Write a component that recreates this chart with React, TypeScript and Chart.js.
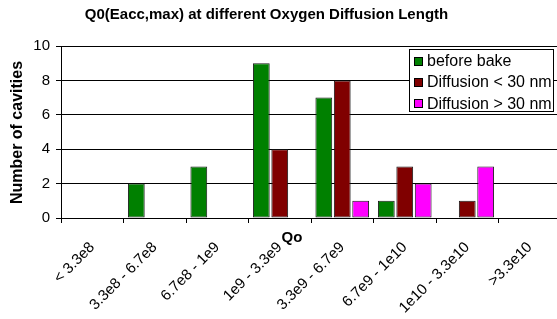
import React, { useEffect, useRef } from "react";
import { Chart, registerables } from "chart.js";

Chart.register(...registerables);

const categories = [
  "< 3.3e8",
  "3.3e8 - 6.7e8",
  "6.7e8 - 1e9",
  "1e9 - 3.3e9",
  "3.3e9 - 6.7e9",
  "6.7e9 - 1e10",
  "1e10 - 3.3e10",
  ">3.3e10",
];
const beforeBake = [0, 2, 3, 9, 7, 1, 0, 0];
const diffusionBelow30 = [0, 0, 0, 4, 8, 3, 1, 0];
const diffusionAbove30 = [0, 0, 0, 0, 1, 2, 3, 0];
const seriesNames = ["before bake", "Diffusion < 30 nm", "Diffusion > 30 nm"];
const seriesColors = ["#008000", "#800000", "#FF00FF"];
const yMin = 0;
const yMax = 10;
const yStep = 2;
const chartTitle = "Q0(Eacc,max) at different Oxygen Diffusion Length";
const xTitle = "Qo";
const yTitle = "Number of cavities";

const FONT = "'Liberation Sans', Arial, sans-serif";

const textPlugin = {
  id: "customTexts",
  afterDraw(chart: any) {
    const ctx = chart.ctx;
    const xs = chart.scales.x;
    ctx.save();
    ctx.fillStyle = "#000";
    // rotated category labels, anchored at each category centre
    ctx.font = `15px ${FONT}`;
    ctx.textAlign = "right";
    ctx.textBaseline = "middle";
    categories.forEach((label, i) => {
      const px = xs.getPixelForTick(i);
      ctx.save();
      ctx.translate(px, 245);
      ctx.rotate(-Math.PI / 4);
      ctx.fillText(label, 0, 0);
      ctx.restore();
    });
    ctx.textAlign = "center";
    ctx.textBaseline = "middle";
    ctx.font = `bold 15px ${FONT}`;
    ctx.fillText(chartTitle, 266.5, 15);
    ctx.fillText(xTitle, 292, 237.5);
    ctx.translate(17.5, 132.5);
    ctx.rotate(-Math.PI / 2);
    ctx.font = `bold 16px ${FONT}`;
    ctx.fillText(yTitle, 0, 0);
    ctx.restore();
  },
};

export default function App() {
  const canvasRef = useRef<HTMLCanvasElement | null>(null);

  useEffect(() => {
    if (!canvasRef.current) return;
    const seriesData = [beforeBake, diffusionBelow30, diffusionAbove30];
    const chart = new Chart(canvasRef.current, {
      type: "bar",
      data: {
        labels: categories,
        datasets: seriesData.map((d, i) => ({
          label: seriesNames[i],
          data: d,
          backgroundColor: seriesColors[i],
          borderColor: "#1a1a1a",
          borderWidth: (c: any) => (c.raw === 0 ? 0 : 1),
          borderSkipped: false,
          categoryPercentage: 0.885,
          barPercentage: 0.91,
        })),
      },
      options: {
        responsive: false,
        animation: false,
        devicePixelRatio: 1,
        layout: { padding: { top: 46, left: 0, right: 0, bottom: 0 } },
        plugins: {
          legend: { display: false },
          title: { display: false },
          tooltip: { enabled: false },
        },
        scales: {
          x: {
            afterFit: (s: any) => {
              s.height = 101;
            },
            grid: {
              display: true,
              drawOnChartArea: false,
              drawTicks: true,
              tickLength: 5,
              color: "#000",
              offset: true,
            },
            border: { display: true, color: "#000", width: 1 },
            ticks: {
              display: false,
              autoSkip: false,
            },
          },
          y: {
            min: yMin,
            max: yMax,
            afterFit: (s: any) => {
              s.width = 61;
            },
            grid: {
              display: true,
              drawTicks: true,
              tickLength: 5,
              color: "#000",
            },
            border: { display: true, color: "#000", width: 1 },
            ticks: {
              stepSize: yStep,
              padding: 6,
              color: "#000",
              font: { family: FONT, size: 15 },
            },
          },
        },
      },
      plugins: [textPlugin],
    });
    return () => chart.destroy();
  }, []);

  const rowTops = [1, 22, 43.5];

  return (
    <div
      style={{
        position: "fixed",
        left: 0,
        top: 0,
        width: 557,
        height: 319,
        overflow: "hidden",
        background: "#fff",
      }}
    >
      <canvas
        ref={canvasRef}
        width={561}
        height={319}
        style={{ position: "absolute", left: 0, top: 0, width: 561, height: 319 }}
      />
      <div
        style={{
          position: "absolute",
          left: 409,
          top: 49,
          width: 145,
          height: 63,
          boxSizing: "border-box",
          border: "1px solid #000",
          background: "#fff",
          fontFamily: FONT,
          fontSize: 16,
          color: "#000",
        }}
      >
        {seriesNames.map((name, i) => (
          <div
            key={name}
            style={{
              position: "absolute",
              left: 0,
              top: rowTops[i],
              height: 20,
              lineHeight: "20px",
              whiteSpace: "nowrap",
            }}
          >
            <span
              style={{
                position: "absolute",
                left: 4,
                top: 5.5,
                width: 9,
                height: 9,
                boxSizing: "border-box",
                border: "1px solid #000",
                background: seriesColors[i],
              }}
            />
            <span style={{ position: "absolute", left: 17 }}>{name}</span>
          </div>
        ))}
      </div>
    </div>
  );
}
